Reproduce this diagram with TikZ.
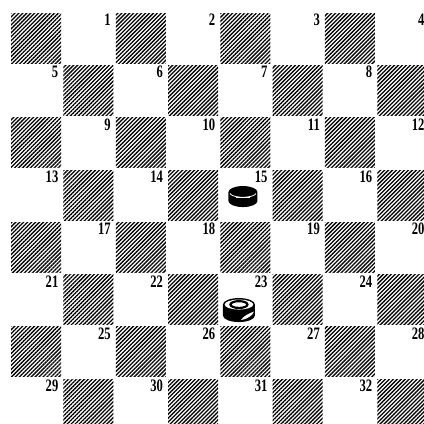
\documentclass[tikz,border=0pt]{standalone}
\usepackage{fontspec}
\setmainfont{Liberation Serif}
\usetikzlibrary{patterns.meta,calc}
\tikzset{dark/.style={minimum size=50pt,inner sep=0pt,pattern={Lines[angle=45,distance=2.8pt,line width=1.3pt]}},light/.style={minimum size=52.3pt,inner sep=0pt},num/.style={anchor=north east,inner sep=0pt,font=\bfseries\fontsize{17.5}{17.5}\selectfont}}

\begin{document}
\begin{tikzpicture}[x=1pt,y=1pt]
\useasboundingbox (0,0) rectangle (424,424);
\foreach \r in {0,...,7}{\foreach \c in {0,...,7}{\pgfmathtruncatemacro\odd{mod(\r+\c,2)}\pgfmathtruncatemacro\n{4*\r+int(\c/2)+1}
\ifnum\odd=0 \node[dark] (d\r\c) at ({10+(\c+0.5)*52.3},{412-(\r+0.5)*52.3}) {};
\else \node[light] (s\n) at ({10+(\c+0.5)*52.3},{412-(\r+0.5)*52.3}) {};
\node[num] (n\n) at ($(s\n.north east)+(-4,-2)$) {\scalebox{0.72}[1]{\n}};\fi}}
\begin{scope}[shift={($(s15.center)+(-2.4,3)$)}]
\fill (-14.5,0) -- (-14.5,-9) arc (180:360:14.5 and 6) -- (14.5,0) arc (0:180:14.5 and 6) -- cycle;
\draw[white,line width=0.8pt] (-13,-1.5) arc (190:350:13.2 and 4.5);
\draw[white,line width=0.6pt] (-7,-5.5) -- (7,-5.5);
\end{scope}
\begin{scope}[shift={($(s23.center)+(-6.4,-4.9)$)}]
\fill (-16,0) -- (-16,-11) arc (180:360:16 and 6.5) -- (16,0) arc (0:180:16 and 6.5) -- cycle;
\fill[white] (0,0) ellipse (14.3 and 5);
\draw[line width=2.2pt] (0,0) ellipse (8.5 and 3.4);
\fill[white] (-3.5,0.6) circle (1.1) (3.5,0.6) circle (1.1);
\fill[white] (15,-7) .. controls (12,-14) and (4,-15) .. (2,-15.5) .. controls (5,-11) and (10,-9) .. (15,-7);
\end{scope}
\end{tikzpicture}
\end{document}
